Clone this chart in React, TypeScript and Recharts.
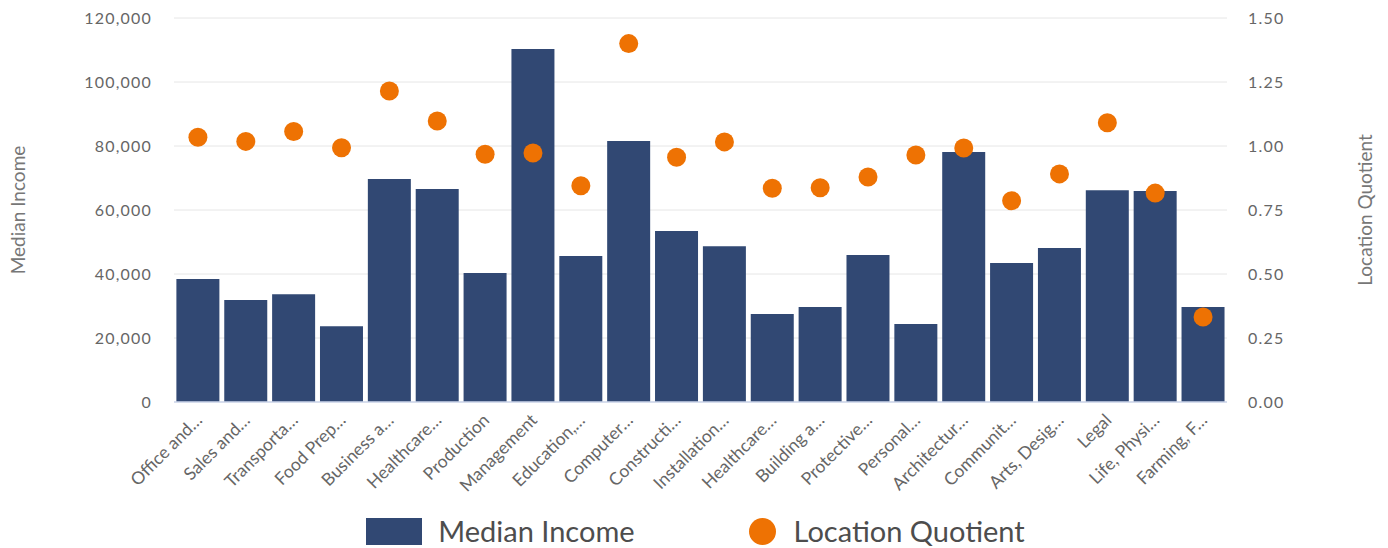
import React from "react";
import { ComposedChart, Bar, Scatter, XAxis, YAxis, CartesianGrid, Legend } from "recharts";

const categories = [
  "Office and Administrative Support",
  "Sales and Related",
  "Transportation and Material Moving",
  "Food Preparation and Serving Related",
  "Business and Financial Operations",
  "Healthcare Practitioners and Technical",
  "Production",
  "Management",
  "Education, Training, and Library",
  "Computer and Mathematical",
  "Construction and Extraction",
  "Installation, Maintenance, and Repair",
  "Healthcare Support",
  "Building and Grounds Cleaning and Maintenance",
  "Protective Service",
  "Personal Care and Service",
  "Architecture and Engineering",
  "Community and Social Service",
  "Arts, Design, Entertainment, Sports, and Media",
  "Legal",
  "Life, Physical, and Social Science",
  "Farming, Fishing, and Forestry",
];

const tickLabels = [
  "Office and…",
  "Sales and…",
  "Transporta…",
  "Food Prep…",
  "Business a…",
  "Healthcare…",
  "Production",
  "Management",
  "Education,…",
  "Computer…",
  "Constructi…",
  "Installation…",
  "Healthcare…",
  "Building a…",
  "Protective…",
  "Personal…",
  "Architectur…",
  "Communit…",
  "Arts, Desig…",
  "Legal",
  "Life, Physi…",
  "Farming, F…",
];

const medianIncome = [
  38400, 31900, 33700, 23700, 69700, 66600, 40300, 110300, 45600, 81600, 53400,
  48700, 27500, 29700, 45900, 24400, 78100, 43400, 48100, 66200, 65900, 29700,
];

const locationQuotient = [
  1.034, 1.018, 1.057, 0.993, 1.215, 1.098, 0.968, 0.973, 0.845, 1.4, 0.956,
  1.016, 0.835, 0.837, 0.879, 0.965, 0.992, 0.786, 0.891, 1.091, 0.816, 0.332,
];

const incomeTicks = [0, 20000, 40000, 60000, 80000, 100000, 120000];
const lqTicks = [0, 0.25, 0.5, 0.75, 1.0, 1.25, 1.5];

const data = categories.map((name, i) => ({
  name,
  income: medianIncome[i],
  lq: locationQuotient[i],
}));

const BAR_COLOR = "#314873";
const DOT_COLOR = "#EE7203";
const FONT = "Lato, 'Noto Sans', sans-serif";

const XTick = (props: any) => {
  const { x, y, index } = props;
  const ax = x + 1;
  const ay = y + 7;
  return (
    <text
      x={ax}
      y={ay}
      dy="0.35em"
      textAnchor="end"
      transform={`rotate(-45 ${ax} ${ay})`}
      fill="#666666"
      fontSize={17.5}
      fontFamily={FONT}
    >
      {tickLabels[index]}
    </text>
  );
};

const renderLegend = () => (
  <div
    style={{
      display: "flex",
      justifyContent: "center",
      alignItems: "center",
      fontFamily: FONT,
      fontSize: 29,
      color: "#4d4d4d",
      height: 28,
      marginLeft: 3,
    }}
  >
    <span style={{ display: "inline-block", width: 56, height: 27, background: BAR_COLOR }} />
    <span style={{ marginLeft: 16, lineHeight: "28px" }}>Median Income</span>
    <span
      style={{
        display: "inline-block",
        width: 27,
        height: 27,
        borderRadius: "50%",
        background: DOT_COLOR,
        marginLeft: 114,
      }}
    />
    <span style={{ marginLeft: 18, lineHeight: "28px" }}>Location Quotient</span>
  </div>
);

const DotShape = (p: any) => <circle cx={p.cx} cy={p.cy} r={9.5} fill={DOT_COLOR} />;

export default function App() {
  return (
    <div style={{ position: "absolute", left: 0, top: 0, width: 1388, height: 548, background: "#fff" }}>
      <ComposedChart
        width={1388}
        height={548}
        data={data}
        margin={{ top: 18, right: 0, bottom: 0, left: 0 }}
        barCategoryGap="5%"
        style={{ fontFamily: FONT }}
      >
        <CartesianGrid yAxisId="left" vertical={false} stroke="#e6e6e6" strokeWidth={1} />
        <XAxis
          dataKey="name"
          height={146}
          interval={0}
          tickLine={false}
          axisLine={{ stroke: "#ccd6eb", strokeWidth: 1.5 }}
          tick={<XTick />}
        />
        <YAxis
          yAxisId="left"
          orientation="left"
          width={174}
          domain={[0, 120000]}
          ticks={incomeTicks}
          axisLine={false}
          tickLine={false}
          tickSize={0}
          tickMargin={22}
          tick={{ fill: "#666666", fontSize: 16, letterSpacing: 1.2 }}
          tickFormatter={(v: number) => v.toLocaleString("en-US")}
          label={{
            value: "Median Income",
            angle: -90,
            position: "insideLeft",
            offset: 18,
            style: { textAnchor: "middle", fill: "#777777", fontSize: 19 },
          }}
        />
        <YAxis
          yAxisId="right"
          orientation="right"
          width={161}
          domain={[0, 1.5]}
          ticks={lqTicks}
          axisLine={false}
          tickLine={false}
          tickSize={0}
          tickMargin={21}
          tick={{ fill: "#666666", fontSize: 16, letterSpacing: 1.2 }}
          tickFormatter={(v: number) => v.toFixed(2)}
          label={{
            value: "Location Quotient",
            angle: -90,
            position: "insideRight",
            offset: 23,
            style: { textAnchor: "middle", fill: "#777777", fontSize: 19 },
          }}
        />
        <Legend
          layout="horizontal"
          verticalAlign="middle"
          align="center"
          content={renderLegend}
          wrapperStyle={{ top: 517, left: 0, width: 1388, height: 28 }}
        />
        <Bar
          yAxisId="left"
          dataKey="income"
          name="Median Income"
          fill={BAR_COLOR}
          isAnimationActive={false}
        />
        <Scatter
          yAxisId="right"
          dataKey="lq"
          name="Location Quotient"
          fill={DOT_COLOR}
          shape={<DotShape />}
          isAnimationActive={false}
        />
      </ComposedChart>
    </div>
  );
}
